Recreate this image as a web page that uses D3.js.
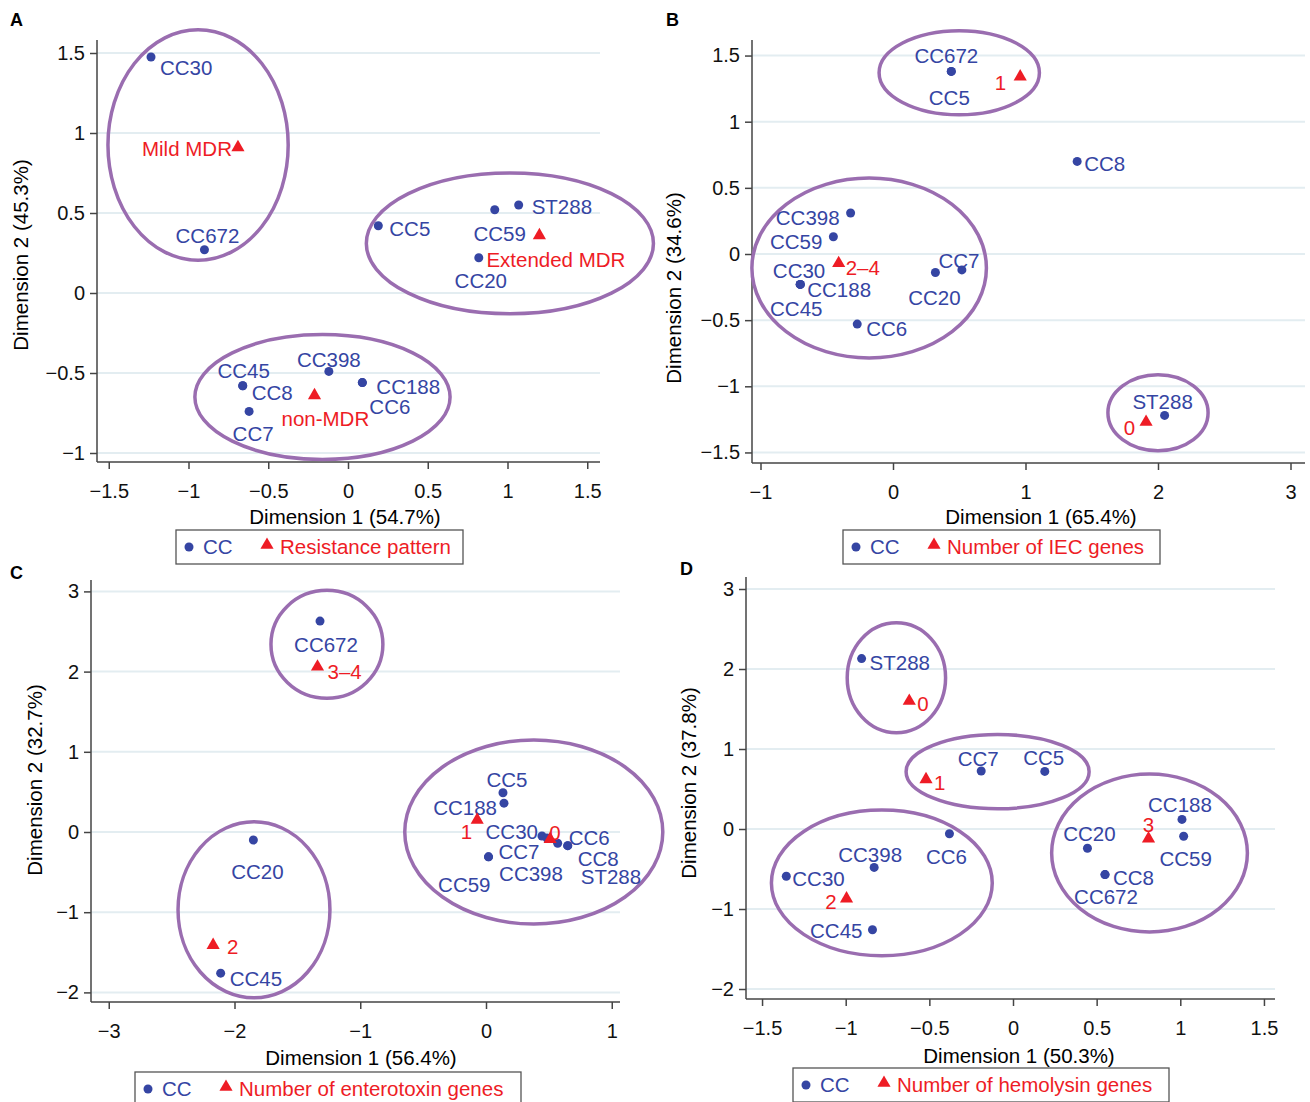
<!DOCTYPE html>
<html>
<head>
<meta charset="utf-8">
<script src="https://cdn.jsdelivr.net/npm/d3@7"></script>
<style>
body { margin: 0; background: #fff; }
text { font-family: "Liberation Sans", Arial, sans-serif; }
</style>
</head>
<body>
<svg width="1310" height="1102"></svg>
<script>
// ---- data ----
const ccA = [["CC30",-1.235,1.475],["CC672",-0.90,0.27],["CC5",0.19,0.42],["CC59",0.92,0.52],["ST288",1.07,0.55],
  ["CC20",0.82,0.22],["CC398",-0.12,-0.49],["CC45",-0.66,-0.58],["CC8",-0.66,-0.58],["CC188",0.09,-0.56],["CC6",0.09,-0.56],["CC7",-0.62,-0.74]];
const triA = [["Mild MDR",-0.69,0.91],["Extended MDR",1.20,0.36],["non-MDR",-0.21,-0.64]];
const ellA = [[-0.94,0.925,0.565,0.72],[1.015,0.31,0.9,0.44],[-0.16,-0.65,0.8,0.39]];

const ccB = [["CC672",0.44,1.38],["CC5",0.44,1.38],["CC8",1.39,0.70],["CC398",-0.32,0.31],["CC59",-0.45,0.13],
  ["CC7",0.52,-0.12],["CC20",0.32,-0.14],["CC30",-0.70,-0.23],["CC188",-0.70,-0.23],["CC45",-0.70,-0.23],["CC6",-0.27,-0.53],["ST288",2.05,-1.22]];
const triB = [["1",0.96,1.34],["2–4",-0.41,-0.07],["0",1.91,-1.27]];
const ellB = [[0.5,1.37,0.605,0.318],[-0.18,-0.106,0.885,0.68],[2.0,-1.2,0.378,0.287]];

const ccC = [["CC672",-1.32,2.63],["CC5",0.135,0.49],["CC188",0.143,0.36],["CC30",0.445,-0.05],["CC398",0.485,-0.075],
  ["CC6",0.57,-0.14],["CC8",0.65,-0.17],["ST288",0.65,-0.17],["CC7",0.02,-0.31],["CC59",0.02,-0.31],["CC20",-1.85,-0.10],["CC45",-2.11,-1.76]];
const triC = [["3–4",-1.34,2.06],["1",-0.07,0.15],["0",0.51,-0.09],["2",-2.17,-1.41]];
const ellC = [[-1.265,2.34,0.445,0.673],[0.38,0.0,1.026,1.147],[-1.845,-0.97,0.604,1.097]];

const ccD = [["ST288",-0.905,2.13],["CC7",-0.19,0.725],["CC5",0.19,0.72],["CC6",-0.38,-0.06],["CC398",-0.83,-0.48],
  ["CC30",-1.355,-0.59],["CC45",-0.84,-1.26],["CC20",0.445,-0.24],["CC188",1.01,0.12],["CC59",1.02,-0.09],["CC8",0.55,-0.57],["CC672",0.55,-0.57]];
const triD = [["0",-0.62,1.60],["1",-0.52,0.62],["2",-0.995,-0.87],["3",0.81,-0.12]];
const ellD = [[-0.697,1.89,0.294,0.687],[-0.092,0.717,0.547,0.464],[-0.784,-0.674,0.66,0.91],[0.816,-0.30,0.585,0.987]];

// label placement: [anchor, dx, dy] in px relative to the mark
const labA = {CC30:["start",9,18],CC672:["middle",3,-7],CC5:["start",11,10],CC59:["middle",5,31],ST288:["start",13,9],
  CC20:["middle",2,30],CC398:["middle",0,-4],CC45:["middle",1,-8],CC8:["start",9,14],CC188:["start",14,11],CC6:["start",7,31],CC7:["middle",4,30],
  "Mild MDR":["end",-6,9],"Extended MDR":["start",-53,32],"non-MDR":["start",-33,31]};
const labB = {CC672:["middle",-5,-8],CC5:["middle",-2,34],CC8:["start",7,10],CC398:["end",-11,12],CC59:["end",-11,12],
  CC7:["middle",-3,-2],CC20:["middle",-1,32],CC30:["end",25,-6],CC188:["start",7,13],CC45:["middle",-4,32],CC6:["start",9,12],ST288:["middle",-2,-6],
  "1":["end",-14,13],"2–4":["start",7,12],"0":["end",-11,13]};
const labC = {CC672:["middle",6,31],CC5:["middle",4,-6],CC188:["end",-7,12],CC30:["end",-4,3],CC398:["middle",-16,43],
  CC6:["start",11,2],CC8:["start",10,20],ST288:["start",13,38],CC7:["start",10,2],CC59:["end",2,35],CC20:["middle",4,39],CC45:["start",9,13],
  "3–4":["start",10,12],"1":["end",-5,19],"0":["start",-1,1],"2":["start",14,9]};
const labD = {ST288:["start",8,11],CC7:["middle",-3,-5],CC5:["middle",-1,-6],CC6:["middle",-3,30],CC398:["middle",-4,-5],
  CC30:["start",6,10],CC45:["end",-10,8],CC20:["middle",2,-7],CC188:["middle",-2,-7],CC59:["middle",2,30],CC8:["start",8,10],CC672:["middle",1,29],
  "0":["start",8,10],"1":["start",8,11],"2":["end",-10,10],"3":["middle",0,-7]};

const panels = [
  {letter:"A", lx:10, ly:26, cc:ccA, tri:triA, ell:ellA, lab:labA, xT:[-1.5,-1,-0.5,0,0.5,1,1.5], yT:[-1,-0.5,0,0.5,1,1.5],
   x0:348, xk:159.5, y0:293, yk:160, left:97, right:600, top:40, bottom:462,
   xTitle:"Dimension 1 (54.7%)", yTitle:"Dimension 2 (45.3%)", xtx:345, xty:524, ytx:28, yty:255,
   leg:"Resistance pattern", lgx:176, lgy:530, lgw:287},
  {letter:"B", lx:666, ly:26, cc:ccB, tri:triB, ell:ellB, lab:labB, xT:[-1,0,1,2,3], yT:[-1.5,-1,-0.5,0,0.5,1,1.5],
   x0:893, xk:132.5, y0:254, yk:132.3, left:752, right:1305, top:40, bottom:463,
   xTitle:"Dimension 1 (65.4%)", yTitle:"Dimension 2 (34.6%)", xtx:1041, xty:524, ytx:681, yty:288,
   leg:"Number of IEC genes", lgx:843, lgy:530, lgw:317},
  {letter:"C", lx:10, ly:579, cc:ccC, tri:triC, ell:ellC, lab:labC, xT:[-3,-2,-1,0,1], yT:[-2,-1,0,1,2,3],
   x0:486, xk:125.75, y0:832, yk:80.2, left:91, right:620, top:580, bottom:1002,
   xTitle:"Dimension 1 (56.4%)", yTitle:"Dimension 2 (32.7%)", xtx:361, xty:1065, ytx:42, yty:780,
   leg:"Number of enterotoxin genes", lgx:135, lgy:1072, lgw:386},
  {letter:"D", lx:680, ly:575, cc:ccD, tri:triD, ell:ellD, lab:labD, xT:[-1.5,-1,-0.5,0,0.5,1,1.5], yT:[-2,-1,0,1,2,3],
   x0:1013, xk:167.3, y0:829, yk:80, left:746, right:1275, top:577, bottom:999,
   xTitle:"Dimension 1 (50.3%)", yTitle:"Dimension 2 (37.8%)", xtx:1019, xty:1063, ytx:696, yty:783,
   leg:"Number of hemolysin genes", lgx:793, lgy:1068, lgw:376}
];

const BLUE = "#3545a3", RED = "#ee1c25", PURPLE = "#9a6db0", FS = 20.5;
const svg = d3.select("svg");
const tri = d3.symbol().type(d3.symbolTriangle).size(75);
const fmt = v => (v < 0 ? "\u2212" + Math.abs(v) : "" + v);

panels.forEach(p => {
  // scales built from tick spacing
  const x = d3.scaleLinear().domain([0, 1]).range([p.x0, p.x0 + p.xk]);
  const y = d3.scaleLinear().domain([0, 1]).range([p.y0, p.y0 - p.yk]);
  const g = svg.append("g");

  g.append("text").attr("x", p.lx).attr("y", p.ly).attr("font-weight", "bold").attr("font-size", 18).text(p.letter);

  // gridlines
  g.selectAll(".grid").data(p.yT).enter().append("line")
    .attr("x1", p.left).attr("x2", p.right).attr("y1", d => y(d)).attr("y2", d => y(d))
    .attr("stroke", "#e3edf1").attr("stroke-width", 2);

  // axes
  const xa = g.append("g").attr("transform", `translate(0,${p.bottom})`)
    .call(d3.axisBottom(x).tickValues(p.xT).tickFormat(fmt).tickSizeOuter(0).tickSize(7).tickPadding(15));
  const ya = g.append("g").attr("transform", `translate(${p.left},0)`)
    .call(d3.axisLeft(y).tickValues(p.yT).tickFormat(fmt).tickSizeOuter(0).tickSize(7).tickPadding(5));
  [xa, ya].forEach(a => {
    a.selectAll("text").attr("font-size", 20).attr("fill", "#111").style("font-family", "Liberation Sans, Arial");
    a.selectAll("line").attr("stroke", "#444").attr("stroke-width", 1.5);
    a.select(".domain").remove();
  });
  g.append("line").attr("x1", p.left).attr("x2", p.right).attr("y1", p.bottom).attr("y2", p.bottom).attr("stroke", "#444").attr("stroke-width", 1.5);
  g.append("line").attr("x1", p.left).attr("x2", p.left).attr("y1", p.top).attr("y2", p.bottom).attr("stroke", "#444").attr("stroke-width", 1.5);

  g.append("text").attr("x", p.xtx).attr("y", p.xty).attr("text-anchor", "middle").attr("font-size", FS).text(p.xTitle);
  g.append("text").attr("transform", `translate(${p.ytx},${p.yty}) rotate(-90)`).attr("text-anchor", "middle").attr("font-size", FS).text(p.yTitle);

  // ellipses
  g.selectAll(".ell").data(p.ell).enter().append("ellipse")
    .attr("cx", d => x(d[0])).attr("cy", d => y(d[1]))
    .attr("rx", d => d[2] * p.xk).attr("ry", d => d[3] * p.yk)
    .attr("fill", "none").attr("stroke", PURPLE).attr("stroke-width", 3.5);

  // CC points and labels
  g.selectAll(".dot").data(p.cc).enter().append("circle")
    .attr("cx", d => x(d[1])).attr("cy", d => y(d[2])).attr("r", 4.5).attr("fill", BLUE);
  g.selectAll(".cl").data(p.cc).enter().append("text")
    .attr("x", d => x(d[1]) + p.lab[d[0]][1]).attr("y", d => y(d[2]) + p.lab[d[0]][2])
    .attr("text-anchor", d => p.lab[d[0]][0]).attr("font-size", FS).attr("fill", BLUE).text(d => d[0]);

  // category triangles and labels
  g.selectAll(".tri").data(p.tri).enter().append("path")
    .attr("d", tri).attr("transform", d => `translate(${x(d[1])},${y(d[2])})`).attr("fill", RED);
  g.selectAll(".tl").data(p.tri).enter().append("text")
    .attr("x", d => x(d[1]) + p.lab[d[0]][1]).attr("y", d => y(d[2]) + p.lab[d[0]][2])
    .attr("text-anchor", d => p.lab[d[0]][0]).attr("font-size", FS).attr("fill", RED).text(d => d[0]);

  // legend
  const lg = g.append("g").attr("transform", `translate(${p.lgx},${p.lgy})`);
  lg.append("rect").attr("width", p.lgw).attr("height", 34).attr("fill", "#fff").attr("stroke", "#555").attr("stroke-width", 1.3);
  lg.append("circle").attr("cx", 13).attr("cy", 17).attr("r", 4.5).attr("fill", BLUE);
  lg.append("text").attr("x", 27).attr("y", 24).attr("font-size", FS).attr("fill", BLUE).text("CC");
  lg.append("path").attr("d", tri).attr("transform", "translate(91,15)").attr("fill", RED);
  lg.append("text").attr("x", 104).attr("y", 24).attr("font-size", FS).attr("fill", RED).text(p.leg);
});
</script>
</body>
</html>
